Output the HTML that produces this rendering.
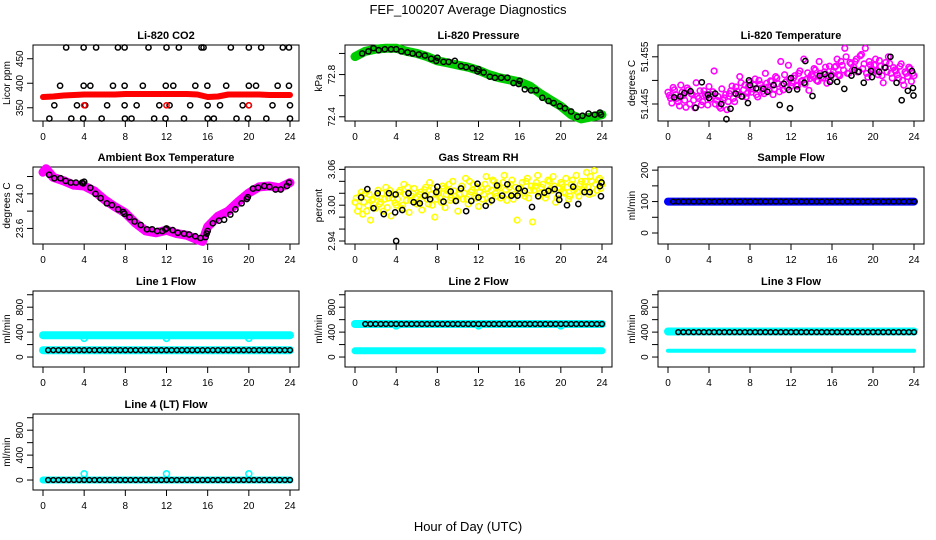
<!DOCTYPE html>
<html><head><meta charset="utf-8">
<style>
html,body{margin:0;padding:0;background:#fff;}
svg{display:block;font-family:"Liberation Sans",sans-serif;}
</style></head>
<body>
<svg id="chart" width="936" height="540" viewBox="0 0 936 540" xmlns="http://www.w3.org/2000/svg">
<text x="468" y="14" text-anchor="middle" font-size="13">FEF_100207  Average Diagnostics</text>
<text x="468" y="531" text-anchor="middle" font-size="13">Hour of Day (UTC)</text>
</svg>
<script>
// ---- data ----
const xTicks = [0,4,8,12,16,20,24];
const hourly = [0,1,2,3,4,5,6,7,8,9,10,11,12,13,14,15,16,17,18,19,20,21,22,23,24];
const co2Red = [372,373,375,376,377,377,377,377,378,378,378,378,378,378,378,377,372,373,377,377,377,377,376,376,376];
const co2BlackH = [2.25,3.95,5.16,7.28,7.93,10.25,12.0,13.2,15.4,15.6,18.25,20.0,21.2,23.3,23.9,
 1.66,3.95,4.6,6.8,7.93,9.7,11.93,12.66,14.8,15.97,17.8,20.0,20.7,22.8,23.9,
 1.1,3.3,4.1,6.23,7.93,9.1,11.3,12.3,14.3,16.0,17.2,19.4,20.0,22.3,24.0,
 0.62,2.75,3.9,5.7,7.96,8.6,10.8,11.9,13.7,16.0,16.6,18.8,19.9,21.7,24.0];
const co2BlackV = [473,473,473,473,473,473,473,473,473,473,473,473,473,473,473,
 395,395,395,395,395,395,395,395,395,395,395,395,395,395,395,
 355,355,355,355,355,355,355,355,355,355,355,355,355,355,355,
 328,328,328,328,328,328,328,328,328,328,328,328,328,328,328];
const presGreen = [72.97,73.02,73.04,73.05,73.05,73.02,73.00,72.97,72.93,72.91,72.89,72.87,72.84,72.80,72.77,72.75,72.73,72.69,72.62,72.56,72.50,72.42,72.38,72.40,72.42];
const presBlackH = [0.7,1.3,1.8,2.3,2.9,3.5,4.0,4.5,5.1,5.6,6.2,6.8,7.4,7.9,8.0,8.6,9.1,9.7,10.3,10.8,11.4,11.9,12.0,12.5,13.1,13.6,14.2,14.8,15.4,15.9,16.0,16.5,17.1,17.6,18.2,18.8,19.3,19.9,20.4,21.0,21.6,22.1,22.7,23.3,23.8,23.9];
const presBlackV = [73.00,73.02,73.05,73.03,73.04,73.04,73.04,73.02,73.01,73.00,72.99,72.98,72.95,72.93,72.96,72.92,72.92,72.93,72.88,72.87,72.86,72.83,72.85,72.82,72.78,72.77,72.77,72.77,72.72,72.71,72.74,72.66,72.65,72.65,72.58,72.55,72.53,72.50,72.48,72.45,72.40,72.41,72.43,72.42,72.44,72.42];
const tempMag = [51.4475,51.4462,51.4485,51.4470,51.4455,51.4490,51.4468,51.4443,51.4480,
 51.4472,51.4458,51.4495,51.4462,51.4448,51.4478,51.4466,51.4487,
 51.4470,51.4520,51.4458,51.4445,51.4482,51.4463,51.4438,51.4472,
 51.4488,51.4455,51.4477,51.4508,51.4466,51.4490,51.4473,51.4496,
 51.4482,51.4503,51.4465,51.4492,51.4477,51.4515,51.4486,51.4499,
 51.4470,51.4508,51.4493,51.4540,51.4480,51.4497,51.4532,51.4488,
 51.4505,51.4490,51.4515,51.4498,51.4545,51.4502,51.4479,51.4512,
 51.4525,51.4500,51.4540,51.4508,51.4518,51.4494,51.4530,51.4512,
 51.4528,51.4545,51.4510,51.4532,51.4568,51.4515,51.4538,51.4522,
 51.4540,51.4518,51.4552,51.4525,51.4568,51.4507,51.4533,51.4520,
 51.4545,51.4512,51.4530,51.4495,51.4538,51.4550,51.4515,51.4527,
 51.4520,51.4505,51.4535,51.4490,51.4515,51.4528,51.4498,51.4510];
const tempMag2 = [51.4468,51.4452,51.4480,51.4462,51.4446,51.4475,51.4458,51.4484,
 51.4450,51.4470,51.4442,51.4466,51.4478,51.4455,51.4470,51.4448,
 51.4460,51.4476,51.4450,51.4466,51.4441,51.4458,51.4470,51.4455,
 51.4478,51.4462,51.4486,51.4470,51.4495,51.4480,51.4465,51.4488,
 51.4475,51.4490,51.4470,51.4500,51.4484,51.4472,51.4494,51.4480,
 51.4498,51.4482,51.4505,51.4476,51.4490,51.4512,51.4485,51.4502,
 51.4495,51.4510,51.4488,51.4520,51.4500,51.4492,51.4516,51.4504,
 51.4508,51.4522,51.4498,51.4515,51.4505,51.4528,51.4510,51.4500,
 51.4518,51.4530,51.4512,51.4540,51.4522,51.4550,51.4515,51.4535,
 51.4528,51.4545,51.4520,51.4555,51.4535,51.4515,51.4540,51.4525,
 51.4532,51.4520,51.4542,51.4510,51.4528,51.4518,51.4536,51.4505,
 51.4522,51.4512,51.4530,51.4500,51.4518,51.4508,51.4525,51.4515];
const tempBlackH = [0.6,1.2,1.6,2.2,2.7,3.3,3.9,4.0,4.6,5.2,5.7,6.1,6.6,7.2,7.8,7.9,8.0,8.6,9.3,9.7,10.3,10.9,11.3,11.8,11.9,12.0,12.6,13.3,13.4,14.1,14.8,15.3,15.8,15.9,16.5,17.2,17.9,18.2,18.6,19.1,19.8,19.9,20.6,21.2,21.7,22.3,22.8,23.4,23.8,23.9,23.95];
const tempBlackV = [51.4464,51.4466,51.4473,51.4477,51.4442,51.4496,51.4470,51.4463,51.4472,51.4450,51.4418,51.4440,51.4472,51.4466,51.4452,51.4500,51.4490,51.4483,51.4482,51.4476,51.4490,51.4448,51.4493,51.4480,51.4441,51.4505,51.4481,51.4495,51.4541,51.4467,51.4510,51.4513,51.4497,51.4510,51.4497,51.4482,51.4510,51.4522,51.4518,51.4495,51.4520,51.4507,51.4518,51.4527,51.4550,51.4495,51.4458,51.4478,51.4520,51.4484,51.4468];
const ambH = [0,0.3,1,2,3,4,5,6,7,8,9,10,11,12,13,14,15,15.5,16,17,18,19,20,21,22,23,24];
const ambMag = [24.25,24.29,24.19,24.15,24.10,24.09,24.03,23.93,23.85,23.78,23.66,23.57,23.55,23.58,23.54,23.52,23.47,23.45,23.62,23.74,23.80,23.91,24.01,24.08,24.09,24.07,24.13];
const ambBlackH = [0.6,1.1,1.7,2.2,2.7,3.2,3.8,3.9,4.0,4.6,5.1,5.6,6.2,6.7,7.3,7.8,7.9,8.4,8.9,9.5,10.1,10.6,11.1,11.6,11.9,12.0,12.6,13.1,13.7,14.2,14.8,15.3,15.8,15.9,16.0,16.5,17.1,17.6,18.2,18.7,19.3,19.8,19.9,20.4,20.9,21.5,22.0,22.6,23.1,23.7,23.9];
const ambBlackV = [24.22,24.18,24.18,24.15,24.13,24.13,24.13,24.12,24.14,24.07,24.00,23.95,23.89,23.87,23.82,23.79,23.77,23.73,23.68,23.64,23.59,23.59,23.57,23.57,23.59,23.60,23.58,23.55,23.54,23.53,23.51,23.49,23.50,23.54,23.57,23.66,23.69,23.70,23.76,23.82,23.89,23.94,23.96,24.06,24.07,24.09,24.08,24.05,24.05,24.09,24.13];
const rhYel = [3.005,2.990,3.015,2.985,3.020,3.000,2.975,3.010,2.995,
 3.025,3.005,2.990,3.030,3.012,2.982,3.018,3.000,
 3.022,2.995,3.035,3.008,2.988,3.015,3.028,3.002,
 3.018,2.992,3.026,3.010,3.038,3.000,2.980,3.020,
 3.012,3.032,2.996,3.024,3.008,3.040,3.015,2.990,
 3.028,3.010,3.045,3.002,3.022,3.035,3.012,2.998,
 3.030,3.018,3.048,3.005,3.025,3.040,3.015,3.032,
 3.020,3.050,3.008,3.030,3.042,3.018,2.975,3.028,
 3.038,3.015,3.045,3.025,2.972,3.032,3.050,3.020,
 3.035,3.012,3.042,3.028,3.048,3.005,3.030,3.038,
 3.022,3.045,3.010,3.035,3.025,3.050,3.015,3.040,
 3.030,3.055,3.018,3.040,3.058,3.025,3.045,3.035];
const rhYel2 = [3.012,2.998,3.022,3.005,2.990,3.018,3.008,2.995,
 3.015,3.002,3.020,3.010,2.996,3.025,3.012,3.004,
 3.010,3.025,3.000,3.018,3.030,3.008,3.020,3.012,
 3.005,3.022,3.015,3.030,3.002,3.018,3.028,3.010,
 3.020,3.005,3.028,3.018,3.035,3.012,3.024,3.008,
 3.018,3.032,3.020,3.010,3.040,3.025,3.015,3.030,
 3.022,3.010,3.035,3.028,3.015,3.042,3.020,3.030,
 3.012,3.038,3.025,3.018,3.035,3.010,3.030,3.022,
 3.028,3.020,3.040,3.012,3.032,3.025,3.038,3.015,
 3.030,3.022,3.018,3.040,3.025,3.032,3.012,3.028,
 3.035,3.020,3.030,3.015,3.042,3.028,3.022,3.035,
 3.025,3.040,3.030,3.048,3.020,3.035,3.042,3.028];
const rhBlackH = [0.6,1.2,1.8,2.2,2.8,3.3,3.9,3.95,4.0,4.6,5.2,5.7,6.3,6.8,7.3,7.9,8.0,8.6,9.3,9.8,10.3,10.8,11.3,11.9,12.0,12.7,13.3,13.8,14.3,14.8,15.2,15.8,15.9,16.5,17.2,17.8,18.4,18.8,19.4,19.8,19.85,20.6,21.2,21.7,22.3,22.8,23.8,23.9,23.95];
const rhBlackV = [3.013,3.027,2.995,3.020,2.985,3.020,2.988,3.018,2.940,2.992,3.020,3.005,3.003,3.016,3.010,3.022,3.031,3.006,3.023,3.007,3.028,2.990,3.007,3.036,3.013,2.999,3.008,3.033,3.016,3.035,3.016,3.016,3.028,3.024,2.997,3.015,3.021,3.024,3.027,3.017,3.009,3.000,3.031,3.002,3.022,3.022,3.032,3.015,3.038];
const sampleBlue = 100;
const line1Cyan = 350, line1Low = 110, line1Dip = 300;
const line2High = 530, line2Low = 100, line2Dip = 500;
const line3High = 410, line3Black = 400, line3Low = 100;
const line4Base = 0, line4Spike = 100;
const dipHours = [4,12,20];
const halfHours = [0.5,1,1.5,2,2.5,3,3.5,4,4.5,5,5.5,6,6.5,7,7.5,8,8.5,9,9.5,10,10.5,11,11.5,12,12.5,13,13.5,14,14.5,15,15.5,16,16.5,17,17.5,18,18.5,19,19.5,20,20.5,21,21.5,22,22.5,23,23.5,24];

// ---- layout ----
const svg = document.getElementById('chart');
const NS = 'http://www.w3.org/2000/svg';
const cols = [{L:33,R:299,x0:43,x24:290},{L:345,R:612,x0:355,x24:602},{L:658,R:924,x0:668,x24:914}];
const rows = [{T:45,B:121},{T:167,B:244},{T:291,B:367},{T:414,B:490}];
function mk(tag, attrs, parent){const e=document.createElementNS(NS,tag);for(const k in attrs)e.setAttribute(k,attrs[k]);(parent||svg).appendChild(e);return e;}

function panel(name, title, col, row, yMin, yMax, yTicks, yLabels, yTitle, dec){
  const c=cols[col], r=rows[row];
  const g=mk('g',{});
  
  
  const xs=h=>c.x0+(h/24)*(c.x24-c.x0);
  const ys=v=>r.B-(v-yMin)/(yMax-yMin)*(r.B-r.T);
  const t=mk('text',{x:(c.L+c.R)/2,y:r.T-6,'text-anchor':'middle','font-size':11,'font-weight':'bold'},g);
  t.textContent=title;
  
  
  const box=mk('rect',{x:c.L,y:r.T,width:c.R-c.L,height:r.B-r.T,fill:'none',stroke:'#000','stroke-width':1},g);
  
  
  const xa=mk('g',{},g);
  
  
  mk('line',{x1:xs(0),x2:xs(24),y1:r.B,y2:r.B,stroke:'#000'},xa);
  xTicks.forEach(h=>{
    mk('line',{x1:xs(h),x2:xs(h),y1:r.B,y2:r.B+6,stroke:'#000'},xa);
    const l=mk('text',{x:xs(h),y:r.B+19,'text-anchor':'middle','font-size':10},xa);l.textContent=h;
    
    
  });
  const ya=mk('g',{},g);
  
  
  yTicks.forEach(v=>{
    mk('line',{x1:c.L-6,x2:c.L,y1:ys(v),y2:ys(v),stroke:'#000'},ya);
  });
  yLabels.forEach(v=>{
    const l=mk('text',{x:c.L-10,y:ys(v),'text-anchor':'middle','font-size':10,transform:`rotate(-90 ${c.L-10} ${ys(v)})`},ya);
    l.textContent=dec?v.toFixed(dec):v;
    
    
  });
  const yt=mk('text',{x:c.L-23,y:(r.T+r.B)/2,'text-anchor':'middle','font-size':10,transform:`rotate(-90 ${c.L-23} ${(r.T+r.B)/2})`},ya);
  yt.textContent=yTitle;
  
  
  const marks=mk('g',{},g);
  
  
  return {xs,ys,g:marks};
}
function band(p, hs, vs, color, w){
  const pts=hs.map((h,i)=>p.xs(h).toFixed(1)+','+p.ys(vs[i]).toFixed(1)).join(' ');
  const e=mk('polyline',{points:pts,fill:'none',stroke:color,'stroke-width':w,'stroke-linejoin':'round','stroke-linecap':'round'},p.g);
  
  
}
function pts(p, hs, vs, color, rad, sw){
  hs.forEach((h,i)=>{
    const e=mk('circle',{cx:p.xs(h),cy:p.ys(vs[i]),r:rad||2.6,fill:'none',stroke:color,'stroke-width':sw||1.5},p.g);
    
    
  });
}
const qHours = tempMag.map((v,i)=>i/4);
const qHours2 = tempMag2.map((v,i)=>i/4+0.125);

// CO2
let p=panel('co2','Li-820 CO2',0,0,323,478,[350,400,450],[350,400,450],'Licor ppm');
band(p,hourly,co2Red,'#ff0000',6);
pts(p,co2BlackH,co2BlackV,'#000');
pts(p,dipHours,[355,355,355],'#ff0000');
// Pressure
p=panel('pressure','Li-820 Pressure',1,0,72.36,73.08,[72.4,72.6,72.8,73.0],[72.4,72.8],'kPa',1);
band(p,hourly,presGreen,'#00cc00',9);
pts(p,presBlackH,presBlackV,'#000');
// Temperature
p=panel('li820-temperature','Li-820 Temperature',2,0,51.4414,51.4575,[51.445,51.450,51.455],[51.445,51.455],'degrees C',3);
pts(p,qHours,tempMag,'#ff00ff',2.8,1.6);
pts(p,qHours2,tempMag2,'#ff00ff',2.8,1.6);
pts(p,tempBlackH,tempBlackV,'#000');
// Ambient
p=panel('ambient-temperature','Ambient Box Temperature',0,1,23.42,24.31,[23.6,23.8,24.0,24.2],[23.6,24.0],'degrees C',1);
band(p,ambH,ambMag,'#ff00ff',9);
pts(p,ambBlackH,ambBlackV,'#000');
// RH
p=panel('gas-stream-rh','Gas Stream RH',1,1,2.935,3.064,[2.94,2.96,2.98,3.00,3.02,3.04,3.06],[2.94,3.00,3.06],'percent',2);
pts(p,qHours,rhYel,'#ffff00',2.8,1.6);
pts(p,qHours2,rhYel2,'#ffff00',2.8,1.6);
pts(p,rhBlackH,rhBlackV,'#000');
// Sample flow
p=panel('sample-flow','Sample Flow',2,1,-35,210,[0,50,100,150,200],[0,100,200],'ml/min');
band(p,[0,24],[sampleBlue,sampleBlue],'#0000ff',8);
pts(p,halfHours,halfHours.map(()=>sampleBlue),'#000',2.4,1.4);
const flowTicks=[0,200,400,600,800,1000], flowLabels=[0,400,800];
// Line 1
p=panel('line1-flow','Line 1 Flow',0,2,-160,1060,flowTicks,flowLabels,'ml/min');
band(p,[0,24],[line1Cyan,line1Cyan],'#00ffff',8);
band(p,[0,24],[line1Low,line1Low],'#00ffff',8);
pts(p,dipHours,dipHours.map(()=>line1Dip),'#00ffff',3,1.6);
pts(p,halfHours,halfHours.map(()=>line1Low),'#000',2.4,1.5);
// Line 2
p=panel('line2-flow','Line 2 Flow',1,2,-160,1060,flowTicks,flowLabels,'ml/min');
band(p,[0,24],[line2High,line2High],'#00ffff',8);
band(p,[0,24],[line2Low,line2Low],'#00ffff',7);
pts(p,dipHours,dipHours.map(()=>line2Dip),'#00ffff',3,1.6);
pts(p,halfHours.slice(1),halfHours.slice(1).map(()=>line2High),'#000',2.4,1.5);
// Line 3
p=panel('line3-flow','Line 3 Flow',2,2,-160,1060,flowTicks,flowLabels,'ml/min');
band(p,[0,24],[line3High,line3High],'#00ffff',8);
band(p,[0,24],[line3Low,line3Low],'#00ffff',4);
pts(p,halfHours.slice(1),halfHours.slice(1).map(()=>line3Black),'#000',2.4,1.5);
// Line 4
p=panel('line4-flow','Line 4 (LT) Flow',0,3,-160,1060,flowTicks,flowLabels,'ml/min');
band(p,[0,24],[line4Base,line4Base],'#00ffff',7);
pts(p,dipHours,dipHours.map(()=>line4Spike),'#00ffff',3,1.6);
pts(p,halfHours,halfHours.map(()=>line4Base),'#000',2.4,1.5);
</script>
</body></html>
